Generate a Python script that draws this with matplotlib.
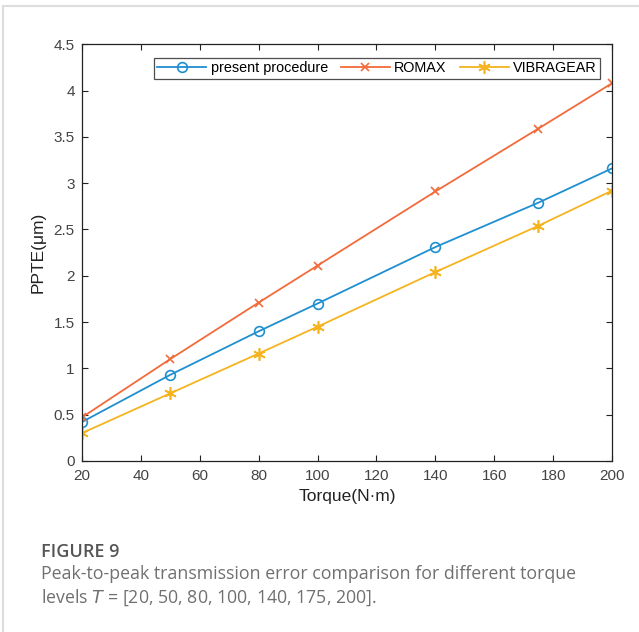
import numpy as np
import matplotlib
matplotlib.use("Agg")
import matplotlib.pyplot as plt
from matplotlib.lines import Line2D

torque = [20, 50, 80, 100, 140, 175, 200]
present = [0.42, 0.93, 1.40, 1.70, 2.31, 2.79, 3.16]
romax = [0.47, 1.10, 1.71, 2.11, 2.91, 3.59, 4.08]
vibragear = [0.30, 0.73, 1.16, 1.45, 2.04, 2.54, 2.92]

xticks = list(range(20, 201, 20))
yticks = [0, 0.5, 1, 1.5, 2, 2.5, 3, 3.5, 4, 4.5]
ytick_labels = ["0", "0.5", "1", "1.5", "2", "2.5", "3", "3.5", "4", "4.5"]

plt.rcParams["font.family"] = ["Liberation Sans", "DejaVu Sans"]

fig = plt.figure(figsize=(6.39, 6.32), dpi=100)
ax = fig.add_axes([0.128, 0.2706, 0.83, 0.6594])

ax.plot(torque, present, color="#1f8fd0", lw=1.3, marker="o", ms=7,
        mfc="none", mew=1.2, label="present procedure")
ax.plot(torque, romax, color="#f26b3a", lw=1.3, marker="x", ms=6,
        mew=1.2, label="ROMAX")
ax.plot(torque, vibragear, color="#f5b41f", lw=1.3, marker=(6, 2, 0), ms=9,
        mew=1.2, label="VIBRAGEAR")

ax.set_xlim(20, 200)
ax.set_ylim(0, 4.5)
ax.set_xticks(xticks)
ax.set_yticks(yticks)
ax.set_yticklabels(ytick_labels)
ax.tick_params(direction="in", top=True, right=True, labelsize=11,
               length=4.5, width=0.8, color="#222222", labelcolor="#444444")
ax.tick_params(axis="x", pad=6)
ax.tick_params(axis="y", pad=5)
for s in ax.spines.values():
    s.set_linewidth(0.9)
    s.set_color("#222222")
ax.set_xlabel("Torque(N\u00b7m)", fontsize=12.5, labelpad=4, color="#222222")
ax.set_ylabel("PPTE(\u03bcm)", fontsize=12.5, labelpad=6, color="#222222")

leg = ax.legend(loc="upper right", ncol=3, fontsize=10.4, frameon=True,
                fancybox=False, edgecolor="#222222", borderpad=0.25,
                handlelength=3.4, handletextpad=0.3, columnspacing=0.9,
                bbox_to_anchor=(0.978, 0.968), borderaxespad=0)
leg.get_frame().set_linewidth(0.9)

# light page border
fig.add_artist(Line2D([0.005, 1.0], [0.991, 0.991], color="#dddddd", lw=1.5))
fig.add_artist(Line2D([0.005, 0.005], [0.0, 0.991], color="#dddddd", lw=1.5))

fig.text(0.064, 0.119, "FIGURE 9", fontsize=13, color="#555555",
         family=["Open Sans", "DejaVu Sans"], weight="semibold")
fig.text(0.064, 0.047,
         "Peak-to-peak transmission error comparison for different torque\n"
         "levels $\\mathit{T}$ = [20, 50, 80, 100, 140, 175, 200].",
         fontsize=12.8, color="#707070", family=["Open Sans", "DejaVu Sans"],
         linespacing=1.25)

fig.savefig("out.png", dpi=100)
